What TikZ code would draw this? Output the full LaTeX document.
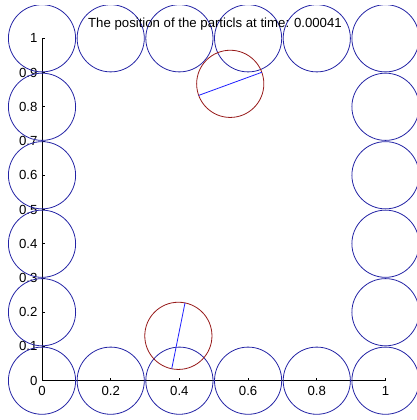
\documentclass[tikz,border=0pt]{standalone}
\usepackage{fontspec}
\setmainfont{Liberation Sans}
\definecolor{wallblue}{RGB}{35,35,165}
\definecolor{partred}{RGB}{150,25,25}
\definecolor{dirblue}{RGB}{30,30,255}
\begin{document}
\begin{tikzpicture}[x=343.5pt,y=342.4pt,
  wall/.style={draw=wallblue, line width=0.8pt},
  particle/.style={draw=partred, line width=0.8pt},
  dirline/.style={draw=dirblue, line width=0.8pt},
  axisline/.style={draw=black, line width=0.8pt},
  ticklab/.style={inner sep=0pt, font=\fontsize{13.2pt}{15pt}\selectfont},
  titlelab/.style={inner sep=0pt, font=\fontsize{13.2pt}{15pt}\selectfont}]
\useasboundingbox (-0.1223,-0.1148) rectangle (1.0917,1.1119);
\begin{scope}
\clip (-0.1223,-0.1148) rectangle (1.0917,1.097);
% axes
\coordinate (O) at (0,0);
\coordinate (XE) at (1,0);
\coordinate (YE) at (0,1);
\draw[axisline] (XE) -- (O) -- (YE);
\foreach \t in {0,0.2,0.4,0.6,0.8,1} {
  \draw[axisline] (\t,0) -- ++(0,3pt);
  \node[ticklab, anchor=base] (xl\t) at (\t,-0.0447) {\t};
}
\foreach \t in {0,0.1,0.2,0.3,0.4,0.5,0.6,0.7,0.8,0.9,1} {
  \draw[axisline] (0,\t) -- ++(3pt,0);
  \node[ticklab, anchor=east] (yl\t) at ([xshift=-4.3pt]0,\t) {\t};
}
% wall circles
\foreach \i in {0,0.2,0.4,0.6,0.8,1} {
  \draw[wall] (\i,0) circle (33.6pt);
  \draw[wall] (\i,1) circle (33.6pt);
}
\foreach \j in {0.2,0.4,0.6,0.8} {
  \draw[wall] (0,\j) circle (33.6pt);
  \draw[wall] (1,\j) circle (33.6pt);
}
% particles
\coordinate (p1) at (0.548,0.867);
\coordinate (p2) at (0.397,0.131);
\draw[particle] (p1) circle (33.6pt);
\draw[particle] (p2) circle (33.6pt);
\draw[dirline] (p1) ++(20.1:33.6pt) -- ++(200.1:67.2pt);
\draw[dirline] (p2) ++(78.6:33.6pt) -- ++(258.6:67.2pt);
% title
\node[titlelab, anchor=base] (title) at (0.5036,1.0316) {The position of the particls at time: 0.00041};
\end{scope}
\end{tikzpicture}
\end{document}
